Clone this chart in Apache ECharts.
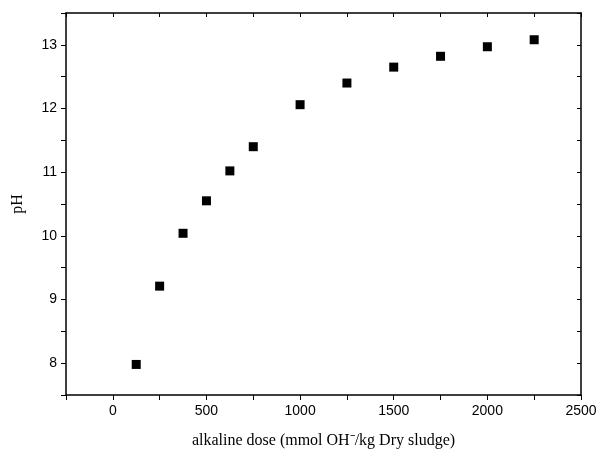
<!DOCTYPE html>
<html>
<head>
<meta charset="utf-8">
<script src="https://cdn.jsdelivr.net/npm/echarts@6/dist/echarts.min.js"></script>
<style>
  html, body { margin: 0; padding: 0; background: #fff; }
  #chart { width: 600px; height: 456px; }
</style>
</head>
<body>
<div id="chart"></div>
<script>
'use strict';

var doses = [125, 250, 375, 500, 625, 750, 1000, 1250, 1500, 1750, 2000, 2250];
var phValues = [7.98, 9.21, 10.04, 10.55, 11.02, 11.4, 12.06, 12.4, 12.65, 12.82, 12.97, 13.08];

var points = doses.map(function(d, i) { return [d, phValues[i]]; });

var myChart = echarts.init(document.getElementById('chart'));

var lineStyle = { color: '#000', width: 1.5 };
var tickFont = { color: '#000', fontFamily: 'Liberation Sans', fontSize: 14 };

function frameAxis(pos, min, max, interval) {
    return {
        type: 'value',
        position: pos,
        min: min,
        max: max,
        interval: interval,
        axisLine: { show: true, onZero: false, lineStyle: lineStyle },
        axisTick: { show: true, inside: true, length: 4, lineStyle: { color: '#000', width: 1 } },
        axisLabel: { show: false },
        splitLine: { show: false }
    };
}

var option = {
    animation: false,
    backgroundColor: '#fff',
    grid: { left: 66, right: 19, top: 13, bottom: 61 },
    xAxis: [{
        type: 'value',
        min: -250,
        max: 2500,
        interval: 250,
        name: 'alkaline dose (mmol OH\u207B/kg Dry sludge)',
        nameLocation: 'middle',
        nameGap: 38,
        nameTextStyle: { color: '#000', fontFamily: 'Liberation Serif', fontSize: 16 },
        axisLine: { onZero: false, lineStyle: lineStyle },
        axisTick: { length: 5, lineStyle: { color: '#000', width: 1 } },
        axisLabel: Object.assign({
            margin: 9,
            formatter: function(v) { return v % 500 === 0 ? String(v) : ''; }
        }, tickFont),
        splitLine: { show: false }
    }, frameAxis('top', -250, 2500, 250)],
    yAxis: [{
        type: 'value',
        min: 7.5,
        max: 13.5,
        interval: 0.5,
        name: 'pH',
        nameLocation: 'middle',
        nameGap: 40,
        nameTextStyle: { color: '#000', fontFamily: 'Liberation Serif', fontSize: 16 },
        axisLine: { onZero: false, lineStyle: lineStyle },
        axisTick: { length: 5, lineStyle: { color: '#000', width: 1 } },
        axisLabel: Object.assign({
            margin: 9,
            formatter: function(v) { return Number.isInteger(v) ? String(v) : ''; }
        }, tickFont),
        splitLine: { show: false }
    }, frameAxis('right', 7.5, 13.5, 0.5)],
    series: [{
        type: 'scatter',
        symbol: 'rect',
        symbolSize: 9,
        itemStyle: { color: '#000', opacity: 1 },
        data: points
    }]
};

myChart.setOption(option);
</script>
</body>
</html>
